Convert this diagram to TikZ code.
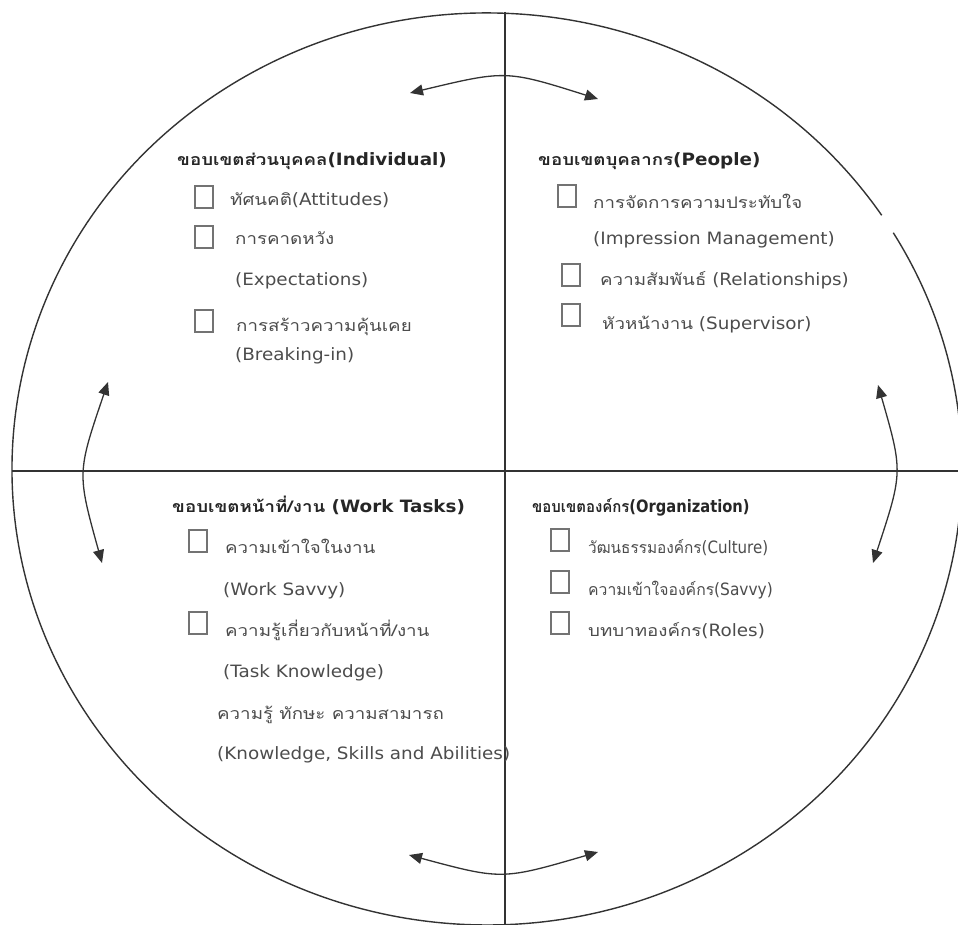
\documentclass[tikz,border=0pt]{standalone}
\usepackage{fontspec}
\usepackage{graphicx}
\setmainfont{DejaVu Sans}[FakeStretch=1.08]
\newfontfamily\thaifont[Script=Thai,FakeStretch=1.17]{Loma}
\usetikzlibrary{arrows.meta}
\newcommand{\thx}[1]{{\fontsize{16}{18}\selectfont\thaifont #1}}
\tikzset{
  line/.style={line width=1.4pt, draw=black!80},
  dbl/.style={line width=1.3pt, draw=black!80, {Triangle[length=13pt,width=11pt]}-{Triangle[length=13pt,width=11pt]}},
  head/.style={anchor=base west, inner sep=0pt, font=\fontsize{17}{18}\selectfont\bfseries, text=black!85},
  item/.style={anchor=base west, inner sep=0pt, font=\fontsize{17}{18}\selectfont, text=black!70},
  cbox/.style={draw=black!55, line width=1.2pt, minimum width=18pt, minimum height=22pt, inner sep=0pt},
}
\begin{document}
\begin{tikzpicture}[x=1pt,y=-1pt]
\useasboundingbox (0,0) rectangle (958,925);
\clip (0,0) rectangle (958,925);
% circle with a small gap on the right
\coordinate (gs) at (881.7,215.3);
\draw[line] (gs) arc[start angle=33.8, end angle=391.2, x radius=475pt, y radius=456pt];
% axes
\coordinate (vt) at (505,12);
\coordinate (vb) at (505,925);
\coordinate (hl) at (12,471);
\coordinate (hr) at (958,471);
\draw[line] (vt) -- (vb);
\draw[line] (hl) -- (hr);
% curved double arrows
\coordinate (ta) at (410,93); \coordinate (tb) at (598,99); \coordinate (tc) at (506,70);
\draw[dbl] (ta) .. controls (tc) .. (tb);
\coordinate (ba) at (409,855); \coordinate (bb) at (598,852); \coordinate (bc) at (502,880);
\draw[dbl] (ba) .. controls (bc) .. (bb);
\coordinate (la) at (108,382); \coordinate (lb) at (102,563); \coordinate (lc) at (77,473);
\draw[dbl] (la) .. controls (lc) .. (lb);
\coordinate (ra) at (878,385); \coordinate (rb) at (873,563); \coordinate (rc) at (903,472);
\draw[dbl] (ra) .. controls (rc) .. (rb);
% top-left: Individual
\node[head] (h1) at (177,166) {\thx{ขอบเขตส่วนบุคคล}(Individual)};
\node[cbox] (c11) at (204,197) {};
\node[item] (t11) at (230,206) {\thx{ทัศนคติ}(Attitudes)};
\node[cbox] (c12) at (204,237) {};
\node[item] (t12) at (235,245) {\thx{การคาดหวัง}};
\node[item] (t12e) at (235,285) {(Expectations)};
\node[cbox] (c13) at (204,321) {};
\node[item] (t13) at (236,331) {\thx{การสร้าวความคุ้นเคย}};
\node[item] (t13e) at (235,360) {(Breaking-in)};
% top-right: People
\node[head] (h2) at (538,166) {\thx{ขอบเขตบุคลากร}(People)};
\node[cbox] (c21) at (567,196) {};
\node[item] (t21) at (593,209) {\thx{การจัดการความประทับใจ}};
\node[item] (t21e) at (593,245) {(Impression Management)};
\node[cbox] (c22) at (571,275) {};
\node[item] (t22) at (600,286) {\thx{ความสัมพันธ์} (Relationships)};
\node[cbox] (c23) at (571,315) {};
\node[item] (t23) at (602,329) {\thx{หัวหน้างาน} (Supervisor)};
% bottom-left: Work Tasks
\node[head] (h3) at (172,512) {\thx{ขอบเขตหน้าที่/งาน} (Work Tasks)};
\node[cbox] (c31) at (198,541) {};
\node[item] (t31) at (225,553) {\thx{ความเข้าใจในงาน}};
\node[item] (t31e) at (223,595) {(Work Savvy)};
\node[cbox] (c32) at (198,623) {};
\node[item] (t32) at (225,636) {\thx{ความรู้เกี่ยวกับหน้าที่/งาน}};
\node[item] (t32e) at (223,677) {(Task Knowledge)};
\node[item] (t33) at (217,719) {\thx{ความรู้ ทักษะ ความสามารถ}};
\node[item] (t33e) at (217,759) {(Knowledge, Skills and Abilities)};
% bottom-right: Organization
\node[head] (h4) at (532,512) {\scalebox{0.8}[1]{\thx{ขอบเขตองค์กร}(Organization)}};
\node[cbox] (c41) at (560,540) {};
\node[item] (t41) at (588,553) {\scalebox{0.82}[1]{\thx{วัฒนธรรมองค์กร}(Culture)}};
\node[cbox] (c42) at (560,582) {};
\node[item] (t42) at (588,595) {\scalebox{0.84}[1]{\thx{ความเข้าใจองค์กร}(Savvy)}};
\node[cbox] (c43) at (560,623) {};
\node[item] (t43) at (588,636) {\thx{บทบาทองค์กร}(Roles)};
\end{tikzpicture}
\end{document}
